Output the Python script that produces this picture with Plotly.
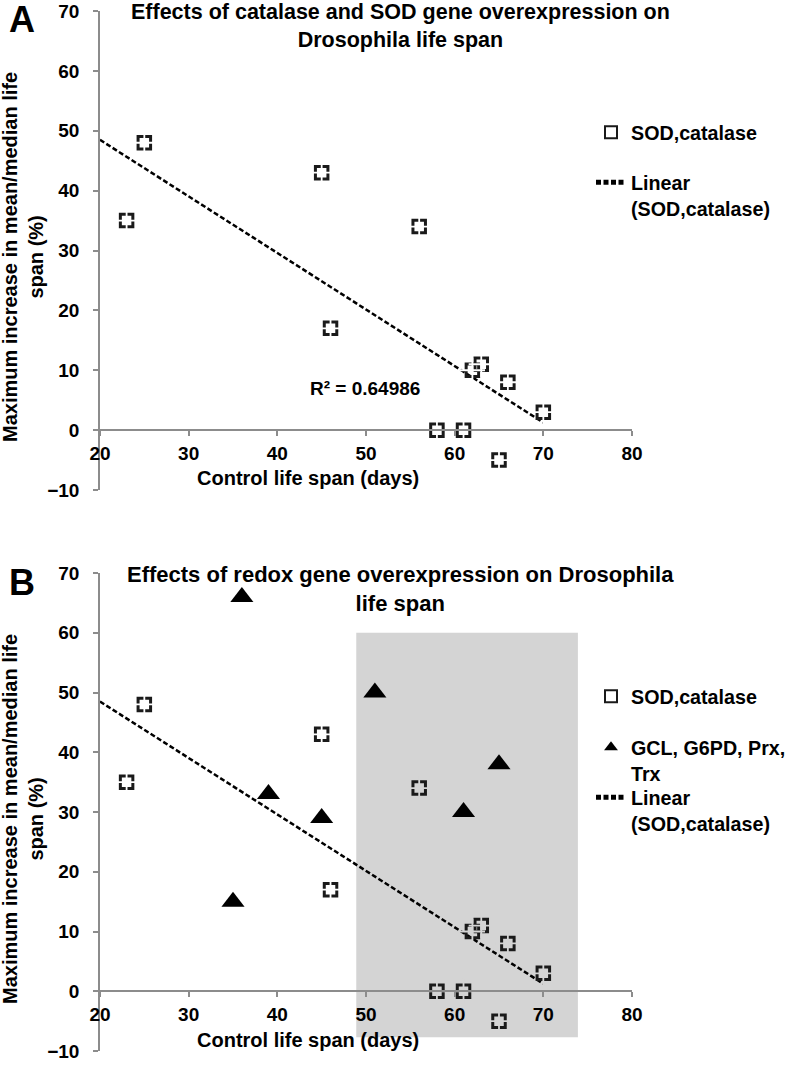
import numpy as np
import plotly.graph_objects as go

# values
sod_x = [23, 25, 45, 46, 56, 58, 61, 62, 63, 65, 66, 70]
sod_y = [35, 48, 43, 17, 34, 0, 0, 10, 11, -5, 8, 3]
redox_x = [35, 36, 39, 45, 51, 61, 65]
redox_y = [15, 66, 33, 29, 50, 30, 38]
x_ticks = [20, 30, 40, 50, 60, 70, 80]
y_ticks = [-10, 0, 10, 20, 30, 40, 50, 60, 70]

sod_name = "SOD,catalase"
redox_name = "GCL, G6PD, Prx,<br>Trx"
fit_name = "Linear<br>(SOD,catalase)"
title_a = "Effects of catalase and SOD gene overexpression on<br>Drosophila life span"
title_b = "Effects of redox gene overexpression on Drosophila<br>life span"
x_title = "Control life span (days)"
y_title = "Maximum increase in mean/median life<br>span (%)"

# shaded window in panel B (data units)
shade_x = [48.9, 73.9]
shade_y = [-7.7, 60]
SHADE = "#d4d4d4"

# linear trendline of the SOD,catalase points
slope, intercept = np.polyfit(sod_x, sod_y, 1)
r2 = np.corrcoef(sod_x, sod_y)[0, 1] ** 2
fit_x = [x_ticks[0], max(sod_x)]
fit_y = [slope * v + intercept for v in fit_x]

W, H = 792, 1080
FONT = "Liberation Sans, Arial, sans-serif"


def fx(p):
    return p / W


def fy(p):
    return 1 - p / H


xdom = [fx(100), fx(632)]
dom_a = [fy(490), fy(11)]
dom_b = [fy(1051), fy(573)]


def zero_pos(dom):
    return dom[0] + (0 - y_ticks[0]) / (y_ticks[-1] - y_ticks[0]) * (dom[1] - dom[0])


tickfont = dict(family=FONT, size=19, color="black", weight="bold")
legfont = dict(family=FONT, size=19.7, color="black", weight="bold")

sq_marker = dict(symbol="square-open", size=12.5, color="#1a1a1a", line=dict(width=3, color="#1a1a1a"))
tri_marker = dict(symbol="triangle-up", size=20, color="black")
fit_line = dict(color="black", width=2.5, dash="5px,2.5px")


# background-coloured plus over each square, so the outline reads as dashed
def gap_marker(shaded):
    cols = []
    for x, y in zip(sod_x, sod_y):
        inside = shaded and shade_x[0] <= x <= shade_x[1] and shade_y[0] <= y <= shade_y[1]
        cols.append(SHADE if inside else "white")
    return dict(symbol="cross-thin", size=18, line=dict(width=1.8, color=cols))


fig = go.Figure()

fig.add_trace(go.Scatter(x=fit_x, y=fit_y, mode="lines", line=fit_line, name=fit_name,
                         xaxis="x", yaxis="y", legend="legend2"))
fig.add_trace(go.Scatter(x=sod_x, y=sod_y, mode="markers", marker=sq_marker, name=sod_name,
                         xaxis="x", yaxis="y", legend="legend"))
fig.add_trace(go.Scatter(x=sod_x, y=sod_y, mode="markers", marker=gap_marker(False),
                         xaxis="x", yaxis="y", showlegend=False, hoverinfo="skip"))

fig.add_trace(go.Scatter(x=fit_x, y=fit_y, mode="lines", line=fit_line, name=fit_name,
                         xaxis="x2", yaxis="y2", legend="legend5"))
fig.add_trace(go.Scatter(x=sod_x, y=sod_y, mode="markers", marker=sq_marker, name=sod_name,
                         xaxis="x2", yaxis="y2", legend="legend3"))
fig.add_trace(go.Scatter(x=sod_x, y=sod_y, mode="markers", marker=gap_marker(True),
                         xaxis="x2", yaxis="y2", showlegend=False, hoverinfo="skip"))
fig.add_trace(go.Scatter(x=redox_x, y=redox_y, mode="markers", marker=tri_marker, name=redox_name,
                         xaxis="x2", yaxis="y2", legend="legend4"))

xax = dict(range=[x_ticks[0], x_ticks[-1]], tickvals=x_ticks, showline=True, linecolor="#8c8c8c",
           linewidth=1.5, ticks="outside", ticklen=5, tickcolor="#8c8c8c", tickwidth=1.5,
           showgrid=False, zeroline=False, tickfont=tickfont, ticklabelstandoff=1,
           domain=xdom, anchor="free", automargin=False)
yax = dict(range=[y_ticks[0], y_ticks[-1]], tickvals=y_ticks, showline=True, linecolor="#8c8c8c",
           linewidth=1.5, ticks="outside", ticklen=5, tickcolor="#8c8c8c", tickwidth=1.5,
           showgrid=False, zeroline=False, tickfont=tickfont, ticklabelstandoff=10,
           automargin=False)

fig.update_layout(
    width=W, height=H, margin=dict(l=0, r=0, t=0, b=0, autoexpand=False),
    paper_bgcolor="white", plot_bgcolor="white", showlegend=True,
    xaxis=dict(xax, position=zero_pos(dom_a)),
    yaxis=dict(yax, domain=dom_a, anchor="x"),
    xaxis2=dict(xax, position=zero_pos(dom_b)),
    yaxis2=dict(yax, domain=dom_b, anchor="x2"),
)

leg = dict(xanchor="left", yanchor="top", font=legfont, bgcolor="rgba(0,0,0,0)",
           valign="top", itemsizing="constant", borderwidth=0)
fig.update_layout(
    legend=dict(leg, x=fx(591), y=fy(113)),
    legend2=dict(leg, x=fx(591), y=fy(163)),
    legend3=dict(leg, x=fx(591), y=fy(677)),
    legend4=dict(leg, x=fx(591), y=fy(728)),
    legend5=dict(leg, x=fx(591), y=fy(778)),
)

fig.add_shape(type="rect", xref="x2", yref="y2", x0=shade_x[0], x1=shade_x[1],
              y0=shade_y[0], y1=shade_y[1], fillcolor=SHADE, line=dict(width=0), layer="below")

labfont = dict(family=FONT, size=20, color="black", weight="bold")
ann = []
for off, title, tsize, letter in [(0, title_a, 21.5, "A"), (562, title_b, 22, "B")]:
    ann.append(dict(text=title, x=fx(400), y=fy(off - 2), xanchor="center", yanchor="top",
                    showarrow=False, font=dict(family=FONT, size=tsize, color="black", weight="bold"),
                    xref="paper", yref="paper"))
    ann.append(dict(text=letter, x=fx(22), y=fy(off + 20), xanchor="center", yanchor="middle",
                    showarrow=False, font=dict(family=FONT, size=36, color="black", weight="bold"),
                    xref="paper", yref="paper"))
    ann.append(dict(text=x_title, x=fx(308), y=fy(off + 478), xanchor="center", yanchor="middle",
                    showarrow=False, font=labfont, xref="paper", yref="paper"))
    ann.append(dict(text=y_title, x=fx(23), y=fy(off + 257), xanchor="center", yanchor="middle",
                    textangle=-90, showarrow=False, font=labfont, xref="paper", yref="paper"))
ann.append(dict(text="R² = %.5f" % r2, x=fx(422), y=fy(388), xanchor="right", yanchor="middle",
                showarrow=False, font=dict(family=FONT, size=19, color="black", weight="bold"),
                xref="paper", yref="paper"))
fig.update_layout(annotations=ann)

fig.write_html("out.html", config={"displayModeBar": False},
               post_script="document.body.style.margin = '0px';")
